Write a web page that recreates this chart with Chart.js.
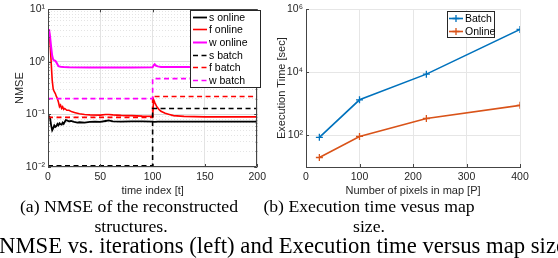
<!DOCTYPE html>
<html>
<head>
<meta charset="utf-8">
<script src="https://cdn.jsdelivr.net/npm/chart.js@4.4.1/dist/chart.umd.min.js"></script>
<style>
  body { margin: 0; width: 558px; height: 258px; overflow: hidden; background: #fff; position: relative; }
  canvas { position: absolute; top: 0; }
  #nmseChart { left: 0; }
  #timeChart { left: 270px; }
  .cap { position: absolute; white-space: nowrap; font-family: "Liberation Serif", "Times New Roman", serif; color: #000; }
  .sub { font-size: 17.7px; line-height: 20px; transform: translateX(-50%); }
  #figcap { font-size: 22.7px; line-height: 26px; left: -1px; top: 233px; }
</style>
</head>
<body>
<canvas id="nmseChart" width="270" height="200"></canvas>
<canvas id="timeChart" width="288" height="200"></canvas>
<div class="cap sub" style="left:129px;top:196px">(a) NMSE of the reconstructed</div>
<div class="cap sub" style="left:131px;top:216px">structures.</div>
<div class="cap sub" style="left:369px;top:196px">(b) Execution time vesus map</div>
<div class="cap sub" style="left:369px;top:216px">size.</div>
<div class="cap" id="figcap">NMSE vs. iterations (left) and Execution time versus map size</div>
<script>
// --- left plot: NMSE over time ---
const timeTicks = [0, 50, 100, 150, 200];
const nmseDecades = [0.01, 0.1, 1, 10];

const sOnlineT = [1, 2, 3, 4, 5, 6, 7, 8, 9, 10, 11, 12, 13, 14, 15, 16, 17, 18, 20, 22, 25, 28, 30, 35, 40, 45, 50, 55, 58, 62, 70, 80, 90, 100, 102, 105, 110, 130, 160, 200];
const sOnline = [0.095, 0.085, 0.062, 0.05, 0.055, 0.062, 0.058, 0.06, 0.066, 0.062, 0.068, 0.065, 0.064, 0.07, 0.066, 0.072, 0.078, 0.077, 0.074, 0.075, 0.072, 0.07, 0.071, 0.07, 0.072, 0.073, 0.072, 0.075, 0.077, 0.074, 0.073, 0.074, 0.074, 0.073, 0.072, 0.073, 0.073, 0.073, 0.073, 0.073];

const fOnlineT = [1, 2, 3, 4, 5, 6, 7, 8, 9, 10, 11, 12, 13, 14, 15, 16, 18, 20, 23, 26, 30, 35, 40, 50, 55, 58, 62, 70, 80, 90, 100, 101, 102, 104, 106, 108, 112, 116, 120, 130, 150, 200];
const fOnline = [4.0, 2.2, 1.0, 0.45, 0.3, 0.27, 0.25, 0.22, 0.2, 0.17, 0.14, 0.15, 0.13, 0.14, 0.125, 0.13, 0.12, 0.12, 0.112, 0.108, 0.103, 0.1, 0.098, 0.097, 0.1, 0.1, 0.098, 0.096, 0.095, 0.093, 0.092, 0.19, 0.17, 0.14, 0.125, 0.115, 0.105, 0.1, 0.095, 0.092, 0.09, 0.09];

const wOnlineT = [1, 2, 3, 4, 5, 6, 7, 8, 9, 10, 12, 15, 20, 40, 60, 80, 100, 101, 102, 103, 105, 108, 115, 200];
const wOnline = [4.2, 3.0, 1.9, 1.3, 1.1, 1.07, 1.05, 0.98, 0.9, 0.83, 0.81, 0.8, 0.79, 0.78, 0.785, 0.785, 0.79, 0.86, 0.9, 0.85, 0.82, 0.8, 0.795, 0.795];

// batch results: one value before t=100, another after
const batchT = [0, 100, 100, 200];
const sBatch = [0.0105, 0.0105, 0.13, 0.13];
const fBatch = [0.088, 0.088, 0.22, 0.22];
const wBatch = [0.2, 0.2, 0.48, 0.48];

// --- right plot: execution time ---
const pixelTicks = [0, 100, 200, 300, 400];
const timeDecades = [1e2, 1e4, 1e6];
const mapPixels = [25, 100, 225, 400];
const batchTime = [87, 1350, 8800, 230000];
const onlineTime = [20, 93, 345, 900];

const AXIS = '#262626';
const SANS = '"Liberation Sans", Arial, sans-serif';
const sup = { '-': '⁻', '0': '⁰', '1': '¹', '2': '²', '3': '³', '4': '⁴', '5': '⁵', '6': '⁶', '7': '⁷', '8': '⁸', '9': '⁹' };

function isPow10(v) {
    const e = Math.log10(v);
    return Math.abs(e - Math.round(e)) < 1e-6;
}
function pow10Label(v) {
    const e = String(Math.round(Math.log10(v)));
    return '10' + e.split('').map(c => sup[c]).join('');
}
function pts(xs, ys) {
    return xs.map((x, i) => ({ x, y: ys[i] }));
}

// 1..9 x 10^n ticks between the decades
const nmseTicks = [];
nmseDecades.forEach((d, i) => {
    if (i === nmseDecades.length - 1) { nmseTicks.push(d); return; }
    for (let k = 1; k <= 9; k++) nmseTicks.push(d * k);
});

// legend in a white box with a border, drawn from the datasets
const boxLegend = {
    id: 'boxLegend',
    afterDraw(chart, args, o) {
        const ctx = chart.ctx;
        ctx.save();
        ctx.fillStyle = '#fff';
        ctx.fillRect(o.x, o.y, o.w, o.h);
        ctx.strokeStyle = AXIS;
        ctx.lineWidth = 1;
        ctx.strokeRect(o.x + 0.5, o.y + 0.5, o.w, o.h);
        ctx.font = o.font;
        ctx.textBaseline = 'middle';
        chart.data.datasets.forEach((ds, i) => {
            const y = Math.round(o.rowY + i * o.rowH) + 0.5;
            ctx.strokeStyle = ds.borderColor;
            ctx.lineWidth = ds.borderWidth;
            ctx.setLineDash(ds.borderDash || []);
            ctx.beginPath();
            ctx.moveTo(o.lineX0, y);
            ctx.lineTo(o.lineX1, y);
            ctx.stroke();
            ctx.setLineDash([]);
            if (o.marker) {
                const mx = (o.lineX0 + o.lineX1) / 2;
                ctx.lineWidth = 1.3;
                ctx.beginPath();
                ctx.moveTo(mx - 3.5, y); ctx.lineTo(mx + 3.5, y);
                ctx.moveTo(mx, y - 3.5); ctx.lineTo(mx, y + 3.5);
                ctx.stroke();
            }
            ctx.fillStyle = '#000';
            ctx.fillText(ds.label, o.textX, y + 0.5);
        });
        ctx.restore();
    }
};

// box and inward tick marks, MATLAB style
const axesFrame = {
    id: 'axesFrame',
    afterDatasetsDraw(chart, args, o) {
        const { ctx, chartArea: a, scales } = chart;
        ctx.save();
        ctx.strokeStyle = '#444';
        ctx.lineWidth = 1;
        ctx.beginPath();
        if (o.box) {
            ctx.rect(Math.round(a.left) + 0.5, Math.round(a.top) + 0.5, Math.round(a.right - a.left) - 1, Math.round(a.bottom - a.top) - 1);
        }
        scales.x.ticks.forEach(t => {
            const px = Math.round(scales.x.getPixelForValue(t.value)) + 0.5;
            ctx.moveTo(px, a.bottom); ctx.lineTo(px, a.bottom - 3);
            if (o.box) { ctx.moveTo(px, a.top); ctx.lineTo(px, a.top + 3); }
        });
        scales.y.ticks.forEach(t => {
            const py = Math.round(scales.y.getPixelForValue(t.value)) + 0.5;
            const len = isPow10(t.value) ? 3 : 1.5;
            ctx.moveTo(a.left, py); ctx.lineTo(a.left + len, py);
            if (o.box) { ctx.moveTo(a.right, py); ctx.lineTo(a.right - len, py); }
        });
        ctx.stroke();
        ctx.restore();
    }
};

function lineSet(label, xs, ys, color, dashed) {
    return {
        label,
        data: pts(xs, ys),
        borderColor: color,
        borderWidth: 1.6,
        borderDash: dashed ? [5, 3.5] : [],
        pointRadius: 0,
        fill: false,
        tension: 0
    };
}

new Chart(document.getElementById('nmseChart'), {
    type: 'line',
    data: {
        datasets: [
            { ...lineSet('s online', sOnlineT, sOnline, '#000000', false), borderWidth: 1.8, order: 5 },
            { ...lineSet('f online', fOnlineT, fOnline, '#ff0000', false), order: 6 },
            { ...lineSet('w online', wOnlineT, wOnline, '#ff00ff', false), borderWidth: 2, order: 4 },
            { ...lineSet('s batch', batchT, sBatch, '#000000', true), order: 1 },
            { ...lineSet('f batch', batchT, fBatch, '#ff0000', true), order: 3 },
            { ...lineSet('w batch', batchT, wBatch, '#ff00ff', true), order: 2 }
        ]
    },
    options: {
        responsive: false,
        animation: false,
        layout: { padding: { top: 5, right: 9, left: 0, bottom: 0 } },
        plugins: {
            legend: { display: false },
            tooltip: { enabled: false },
            boxLegend: { x: 190, y: 10, w: 70, h: 77, rowY: 16.5, rowH: 12.7, lineX0: 193, lineX1: 207, textX: 209, font: '10.5px ' + SANS },
            axesFrame: { box: true }
        },
        scales: {
            x: {
                type: 'linear',
                min: 0, max: 200,
                afterBuildTicks: s => { s.ticks = timeTicks.map(v => ({ value: v })); },
                afterFit: s => { s.height = 33; },
                grid: { color: '#e3e3e3', drawTicks: false },
                border: { display: false },
                ticks: { color: AXIS, font: { family: SANS, size: 10.5 }, padding: 4, maxRotation: 0 },
                title: { display: true, text: 'time index [t]', color: AXIS, font: { family: SANS, size: 11 }, padding: { top: 0, bottom: 2 } }
            },
            y: {
                type: 'logarithmic',
                min: 0.01, max: 10,
                afterBuildTicks: s => { s.ticks = nmseTicks.map(v => ({ value: v })); },
                afterFit: s => { s.width = 48; },
                grid: {
                    drawTicks: false,
                    color: c => (c.tick && !isPow10(c.tick.value)) ? '#e4e4e4' : '#dcdcdc'
                },
                border: {
                    display: false,
                    dash: c => (c.tick && !isPow10(c.tick.value)) ? [1, 2] : []
                },
                ticks: {
                    color: AXIS, font: { family: SANS, size: 10.5 }, padding: 3, autoSkip: false,
                    callback: v => isPow10(v) ? pow10Label(v) : ''
                },
                title: { display: true, text: 'NMSE', color: AXIS, font: { family: SANS, size: 11 }, padding: { top: 13, bottom: 0 } }
            }
        }
    },
    plugins: [boxLegend, axesFrame]
});

new Chart(document.getElementById('timeChart'), {
    type: 'line',
    data: {
        datasets: [
            {
                label: 'Batch', data: pts(mapPixels, batchTime),
                borderColor: '#0072bd', backgroundColor: '#0072bd', borderWidth: 1.6,
                pointStyle: 'cross', pointRadius: 3.5, pointBorderWidth: 1.3, tension: 0
            },
            {
                label: 'Online', data: pts(mapPixels, onlineTime),
                borderColor: '#d95319', backgroundColor: '#d95319', borderWidth: 1.6,
                pointStyle: 'cross', pointRadius: 3.5, pointBorderWidth: 1.3, tension: 0
            }
        ]
    },
    options: {
        responsive: false,
        animation: false,
        layout: { padding: { top: 6, right: 38, left: 0, bottom: 0 } },
        plugins: {
            legend: { display: false },
            tooltip: { enabled: false },
            boxLegend: { x: 177, y: 11, w: 47, h: 26, rowY: 17.5, rowH: 13, lineX0: 179, lineX1: 193, textX: 195, font: '10.5px ' + SANS, marker: true },
            axesFrame: { box: false }
        },
        scales: {
            x: {
                type: 'linear',
                min: 0, max: 400,
                afterBuildTicks: s => { s.ticks = pixelTicks.map(v => ({ value: v })); },
                afterFit: s => { s.height = 33; },
                grid: { color: '#e6e6e6', drawTicks: false },
                border: { color: '#444', width: 1 },
                ticks: { color: AXIS, font: { family: SANS, size: 10.5 }, padding: 4, maxRotation: 0 },
                title: { display: true, text: 'Number of pixels in map [P]', color: AXIS, font: { family: SANS, size: 11 }, padding: { top: 0, bottom: 2 } }
            },
            y: {
                type: 'logarithmic',
                min: 10, max: 1e6,
                afterBuildTicks: s => { s.ticks = timeDecades.map(v => ({ value: v })); },
                afterFit: s => { s.width = 36; },
                grid: { color: '#e6e6e6', drawTicks: false },
                border: { color: '#444', width: 1 },
                ticks: {
                    color: AXIS, font: { family: SANS, size: 10.5 }, padding: 3, autoSkip: false,
                    callback: v => pow10Label(v)
                },
                title: { display: true, text: 'Execution Time [sec]', color: AXIS, font: { family: SANS, size: 11 }, padding: { top: 5, bottom: 0 } }
            }
        }
    },
    plugins: [boxLegend, axesFrame]
});
</script>
</body>
</html>
